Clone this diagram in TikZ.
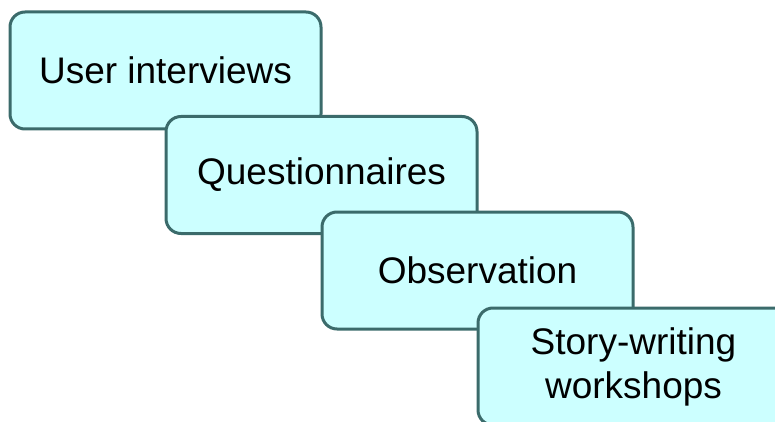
\documentclass[tikz,border=0pt]{standalone}
\usepackage{fontspec}
\setmainfont{Liberation Sans}
\usetikzlibrary{positioning}
\definecolor{boxfill}{HTML}{CCFFFF}
\definecolor{boxedge}{HTML}{3B6B6B}
\tikzset{
  stagebox/.style={
    rectangle, rounded corners=15pt, draw=boxedge, fill=boxfill,
    line width=3pt, minimum width=311pt, minimum height=117pt,
    align=center, font=\fontsize{37}{44}\selectfont
  }
}
\begin{document}
\begin{tikzpicture}
  \clip (0,0) rectangle (775pt,421pt);
  \node[stagebox] (interviews) at (165.5pt,350.5pt) {User interviews};
  \node[stagebox, below right=-15.5pt and -158pt of interviews] (questions)
    {Questionnaires};
  \node[stagebox, below right=-24.5pt and -158pt of questions] (observe)
    {Observation};
  \node[stagebox, below right=-24pt and -158pt of observe] (workshops)
    {Story-writing\\workshops};
\end{tikzpicture}
\end{document}
